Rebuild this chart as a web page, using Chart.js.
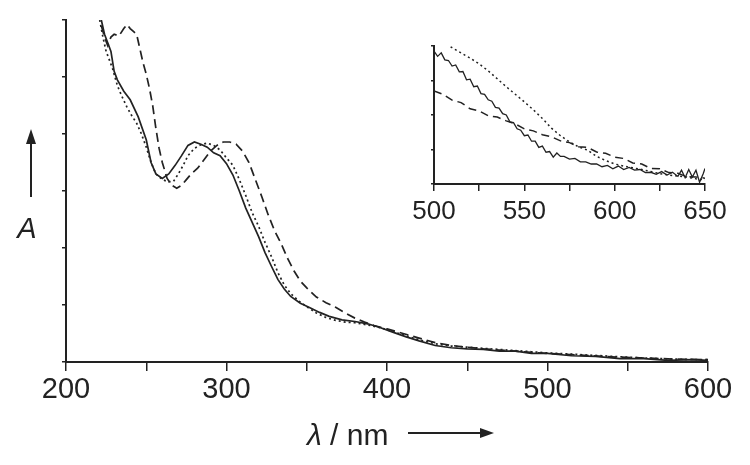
<!DOCTYPE html>
<html>
<head>
<meta charset="utf-8">
<script src="https://cdn.jsdelivr.net/npm/chart.js@4.4.1/dist/chart.umd.min.js"></script>
<style>
    body { margin: 0; background: #fff; }
    #wrap { position: relative; width: 750px; height: 465px; }
    #mainChart { position: absolute; left: 0; top: 0; }
    #insetChart { position: absolute; left: 380px; top: 26px; }
</style>
</head>
<body>
<div id="wrap">
    <canvas id="mainChart" width="750" height="465"></canvas>
    <canvas id="insetChart" width="370" height="200"></canvas>
</div>
<script>
// main spectrum, 200-600 nm (A in tick units, 0..6)
var solidNm = [222, 224, 226, 228, 230, 232, 236, 240, 245, 250, 253, 256, 260, 264, 268, 272, 276, 280, 284, 288, 292, 296, 300, 304, 308, 312, 316, 320, 324, 328, 332, 336, 340, 346, 352, 358, 364, 372, 380, 388, 396, 404, 412, 420, 430, 440, 450, 460, 470, 480, 490, 500, 515, 530, 545, 560, 575, 590, 600];
var solidA = [6.0, 5.75, 5.6, 5.45, 5.1, 4.95, 4.75, 4.6, 4.3, 3.9, 3.5, 3.3, 3.22, 3.3, 3.45, 3.62, 3.8, 3.86, 3.82, 3.77, 3.67, 3.62, 3.48, 3.28, 3.0, 2.7, 2.45, 2.2, 1.92, 1.68, 1.45, 1.28, 1.15, 1.03, 0.95, 0.87, 0.8, 0.74, 0.71, 0.67, 0.6, 0.52, 0.44, 0.37, 0.29, 0.25, 0.23, 0.22, 0.19, 0.19, 0.15, 0.15, 0.11, 0.1, 0.06, 0.06, 0.03, 0.04, 0.03];

var dashNm = [222, 224, 226, 228, 230, 233, 236, 238, 240, 242, 244, 246, 248, 250, 252, 254, 256, 258, 260, 263, 266, 269, 272, 275, 278, 282, 286, 290, 294, 298, 302, 306, 310, 314, 318, 322, 326, 330, 334, 338, 342, 346, 350, 356, 362, 368, 374, 380, 386, 392, 400, 410, 420, 430, 440, 450, 460, 470, 480, 490, 500, 520, 540, 560, 580, 600];
var dashA = [5.9, 5.7, 5.55, 5.7, 5.75, 5.72, 5.85, 5.92, 5.85, 5.8, 5.75, 5.5, 5.25, 5.05, 4.8, 4.5, 4.1, 3.75, 3.5, 3.22, 3.1, 3.05, 3.1, 3.2, 3.3, 3.4, 3.55, 3.7, 3.8, 3.86, 3.86, 3.82, 3.7, 3.5, 3.2, 2.9, 2.58, 2.3, 2.08, 1.82, 1.6, 1.42, 1.3, 1.14, 1.04, 0.96, 0.86, 0.77, 0.7, 0.64, 0.58, 0.5, 0.42, 0.34, 0.29, 0.26, 0.23, 0.21, 0.19, 0.17, 0.15, 0.12, 0.09, 0.07, 0.05, 0.04];

var dotNm = [221, 223, 225, 227, 229, 232, 235, 238, 241, 244, 247, 250, 253, 256, 260, 264, 267, 270, 273, 276, 280, 284, 288, 292, 296, 300, 304, 308, 312, 316, 320, 324, 328, 332, 336, 340, 345, 350, 356, 362, 368, 374, 380, 388, 396, 404, 412, 420, 430, 440, 450, 460, 470, 480, 490, 500, 520, 540, 560, 580, 600];
var dotA = [6.0, 5.7, 5.45, 5.3, 5.15, 4.85, 4.65, 4.47, 4.32, 4.19, 4.0, 3.77, 3.5, 3.3, 3.2, 3.16, 3.17, 3.3, 3.45, 3.62, 3.75, 3.81, 3.84, 3.8, 3.72, 3.58, 3.45, 3.2, 2.92, 2.62, 2.38, 2.1, 1.85, 1.57, 1.35, 1.2, 1.07, 0.97, 0.86, 0.78, 0.73, 0.7, 0.69, 0.65, 0.6, 0.53, 0.46, 0.39, 0.32, 0.28, 0.26, 0.24, 0.22, 0.2, 0.18, 0.16, 0.13, 0.1, 0.07, 0.05, 0.04];

// inset, 500-650 nm (A in tick units, 0..4)
var inSolidNm = [500, 502, 504, 506, 508, 510, 512, 514, 516, 518, 520, 522, 524, 526, 528, 530, 532, 534, 536, 538, 540, 542, 544, 546, 548, 550, 552, 554, 556, 558, 560, 562, 564, 566, 568, 570, 572, 575, 578, 581, 584, 587, 590, 593, 596, 599, 602, 605, 608, 611, 614, 617, 620, 623, 626, 629, 632, 635, 637, 639, 641, 643, 645, 647, 649, 650];
var inSolidA = [3.85, 3.70, 3.80, 3.60, 3.58, 3.42, 3.45, 3.25, 3.26, 3.02, 3.04, 2.82, 2.84, 2.62, 2.6, 2.44, 2.4, 2.22, 2.2, 2.04, 2.0, 1.8, 1.78, 1.6, 1.56, 1.4, 1.42, 1.24, 1.24, 1.06, 1.1, 0.92, 0.94, 0.78, 0.9, 0.8, 0.8, 0.72, 0.74, 0.64, 0.64, 0.58, 0.58, 0.5, 0.54, 0.44, 0.52, 0.42, 0.48, 0.4, 0.42, 0.33, 0.34, 0.28, 0.36, 0.26, 0.34, 0.22, 0.4, 0.18, 0.42, 0.2, 0.4, 0.05, 0.3, 0.45];

var inDashNm = [500, 505, 510, 515, 520, 525, 530, 535, 540, 545, 550, 555, 560, 565, 570, 575, 580, 585, 590, 595, 600, 605, 610, 615, 620, 625, 630, 635, 640, 645, 650];
var inDashA = [2.7, 2.6, 2.43, 2.36, 2.18, 2.12, 1.98, 1.94, 1.83, 1.74, 1.6, 1.54, 1.43, 1.37, 1.25, 1.2, 1.08, 1.06, 0.93, 0.89, 0.78, 0.74, 0.61, 0.58, 0.45, 0.44, 0.33, 0.31, 0.21, 0.2, 0.17];

var inDotNm = [500, 505, 510, 515, 520, 525, 530, 535, 540, 545, 550, 555, 560, 565, 570, 575, 580, 585, 590, 595, 600, 605, 610, 615, 620, 625, 630, 635, 640, 645, 650];
var inDotA = [4.3, 4.12, 3.95, 3.8, 3.65, 3.48, 3.28, 3.05, 2.82, 2.6, 2.38, 2.15, 1.9, 1.62, 1.4, 1.22, 1.08, 0.98, 0.8, 0.68, 0.58, 0.52, 0.47, 0.42, 0.36, 0.3, 0.26, 0.23, 0.2, 0.15, 0.12];

var ink = '#222';
var fontFamily = "'Liberation Sans', Arial, sans-serif";

function toPoints(xs, ys) {
    var pts = [];
    for (var i = 0; i < xs.length; i++) {
        pts.push({ x: xs[i], y: ys[i] });
    }
    return pts;
}

function line(xs, ys, dash, width) {
    return {
        data: toPoints(xs, ys),
        borderColor: ink,
        borderWidth: width,
        borderDash: dash,
        pointRadius: 0,
        tension: 0,
        fill: false
    };
}

function xAxis(min, max, step, labelStep, size, tickLen, pad, height) {
    return {
        type: 'linear',
        min: min,
        max: max,
        afterFit: function (s) { s.height = height; },
        ticks: {
            stepSize: step,
            autoSkip: false,
            maxRotation: 0,
            padding: pad,
            color: ink,
            font: { family: fontFamily, size: size },
            callback: function (v) { return v % labelStep === 0 ? v : ''; }
        },
        grid: { drawOnChartArea: false, drawTicks: true, tickLength: tickLen, color: ink, lineWidth: 1.5 },
        border: { display: true, color: ink, width: 2 }
    };
}

function yAxis(max, tickLen, width) {
    return {
        type: 'linear',
        min: 0,
        max: max,
        afterFit: function (s) { s.width = width; },
        ticks: { stepSize: 1, display: false },
        grid: { drawOnChartArea: false, drawTicks: true, tickLength: tickLen, color: ink, lineWidth: 1.5 },
        border: { display: true, color: ink, width: 2 }
    };
}

// axis titles with arrows
var axisLabels = {
    id: 'axisLabels',
    afterDraw: function (chart) {
        var ctx = chart.ctx;
        ctx.save();
        ctx.fillStyle = ink;
        ctx.strokeStyle = ink;
        ctx.textBaseline = 'alphabetic';
        ctx.textAlign = 'left';

        var x = 307;
        ctx.font = 'italic 30px ' + fontFamily;
        ctx.fillText('λ', x, 445);
        x += ctx.measureText('λ').width;
        ctx.font = '30px ' + fontFamily;
        ctx.fillText(' / nm', x, 445);

        ctx.lineWidth = 2;
        ctx.beginPath();
        ctx.moveTo(408, 433);
        ctx.lineTo(482, 433);
        ctx.stroke();
        ctx.beginPath();
        ctx.moveTo(494, 433);
        ctx.lineTo(480, 428);
        ctx.lineTo(480, 438);
        ctx.closePath();
        ctx.fill();

        ctx.textAlign = 'center';
        ctx.font = 'italic 29px ' + fontFamily;
        ctx.fillText('A', 27, 238);

        ctx.beginPath();
        ctx.moveTo(31, 197);
        ctx.lineTo(31, 142);
        ctx.stroke();
        ctx.beginPath();
        ctx.moveTo(31, 129);
        ctx.lineTo(26, 144);
        ctx.lineTo(36, 144);
        ctx.closePath();
        ctx.fill();
        ctx.restore();
    }
};

new Chart(document.getElementById('mainChart'), {
    type: 'line',
    data: {
        datasets: [
            line(solidNm, solidA, [], 1.7),
            line(dashNm, dashA, [9, 5], 1.7),
            line(dotNm, dotA, [2, 3], 1.7)
        ]
    },
    options: {
        responsive: false,
        animation: false,
        layout: { padding: { left: 0, top: 20, right: 42, bottom: 0 } },
        plugins: { legend: { display: false }, tooltip: { enabled: false } },
        scales: {
            x: xAxis(200, 600, 50, 100, 29, 9, 2, 103),
            y: yAxis(6, 4, 66)
        }
    },
    plugins: [axisLabels]
});

new Chart(document.getElementById('insetChart'), {
    type: 'line',
    data: {
        datasets: [
            line(inSolidNm, inSolidA, [], 1.3),
            line(inDashNm, inDashA, [8, 5], 1.5),
            line(inDotNm, inDotA, [2, 3], 1.5)
        ]
    },
    options: {
        responsive: false,
        animation: false,
        layout: { padding: { left: 0, top: 20, right: 45, bottom: 0 } },
        plugins: { legend: { display: false }, tooltip: { enabled: false } },
        scales: {
            x: xAxis(500, 650, 25, 50, 26, 7, 5, 42),
            y: yAxis(4, 3, 54)
        }
    }
});
</script>
</body>
</html>
